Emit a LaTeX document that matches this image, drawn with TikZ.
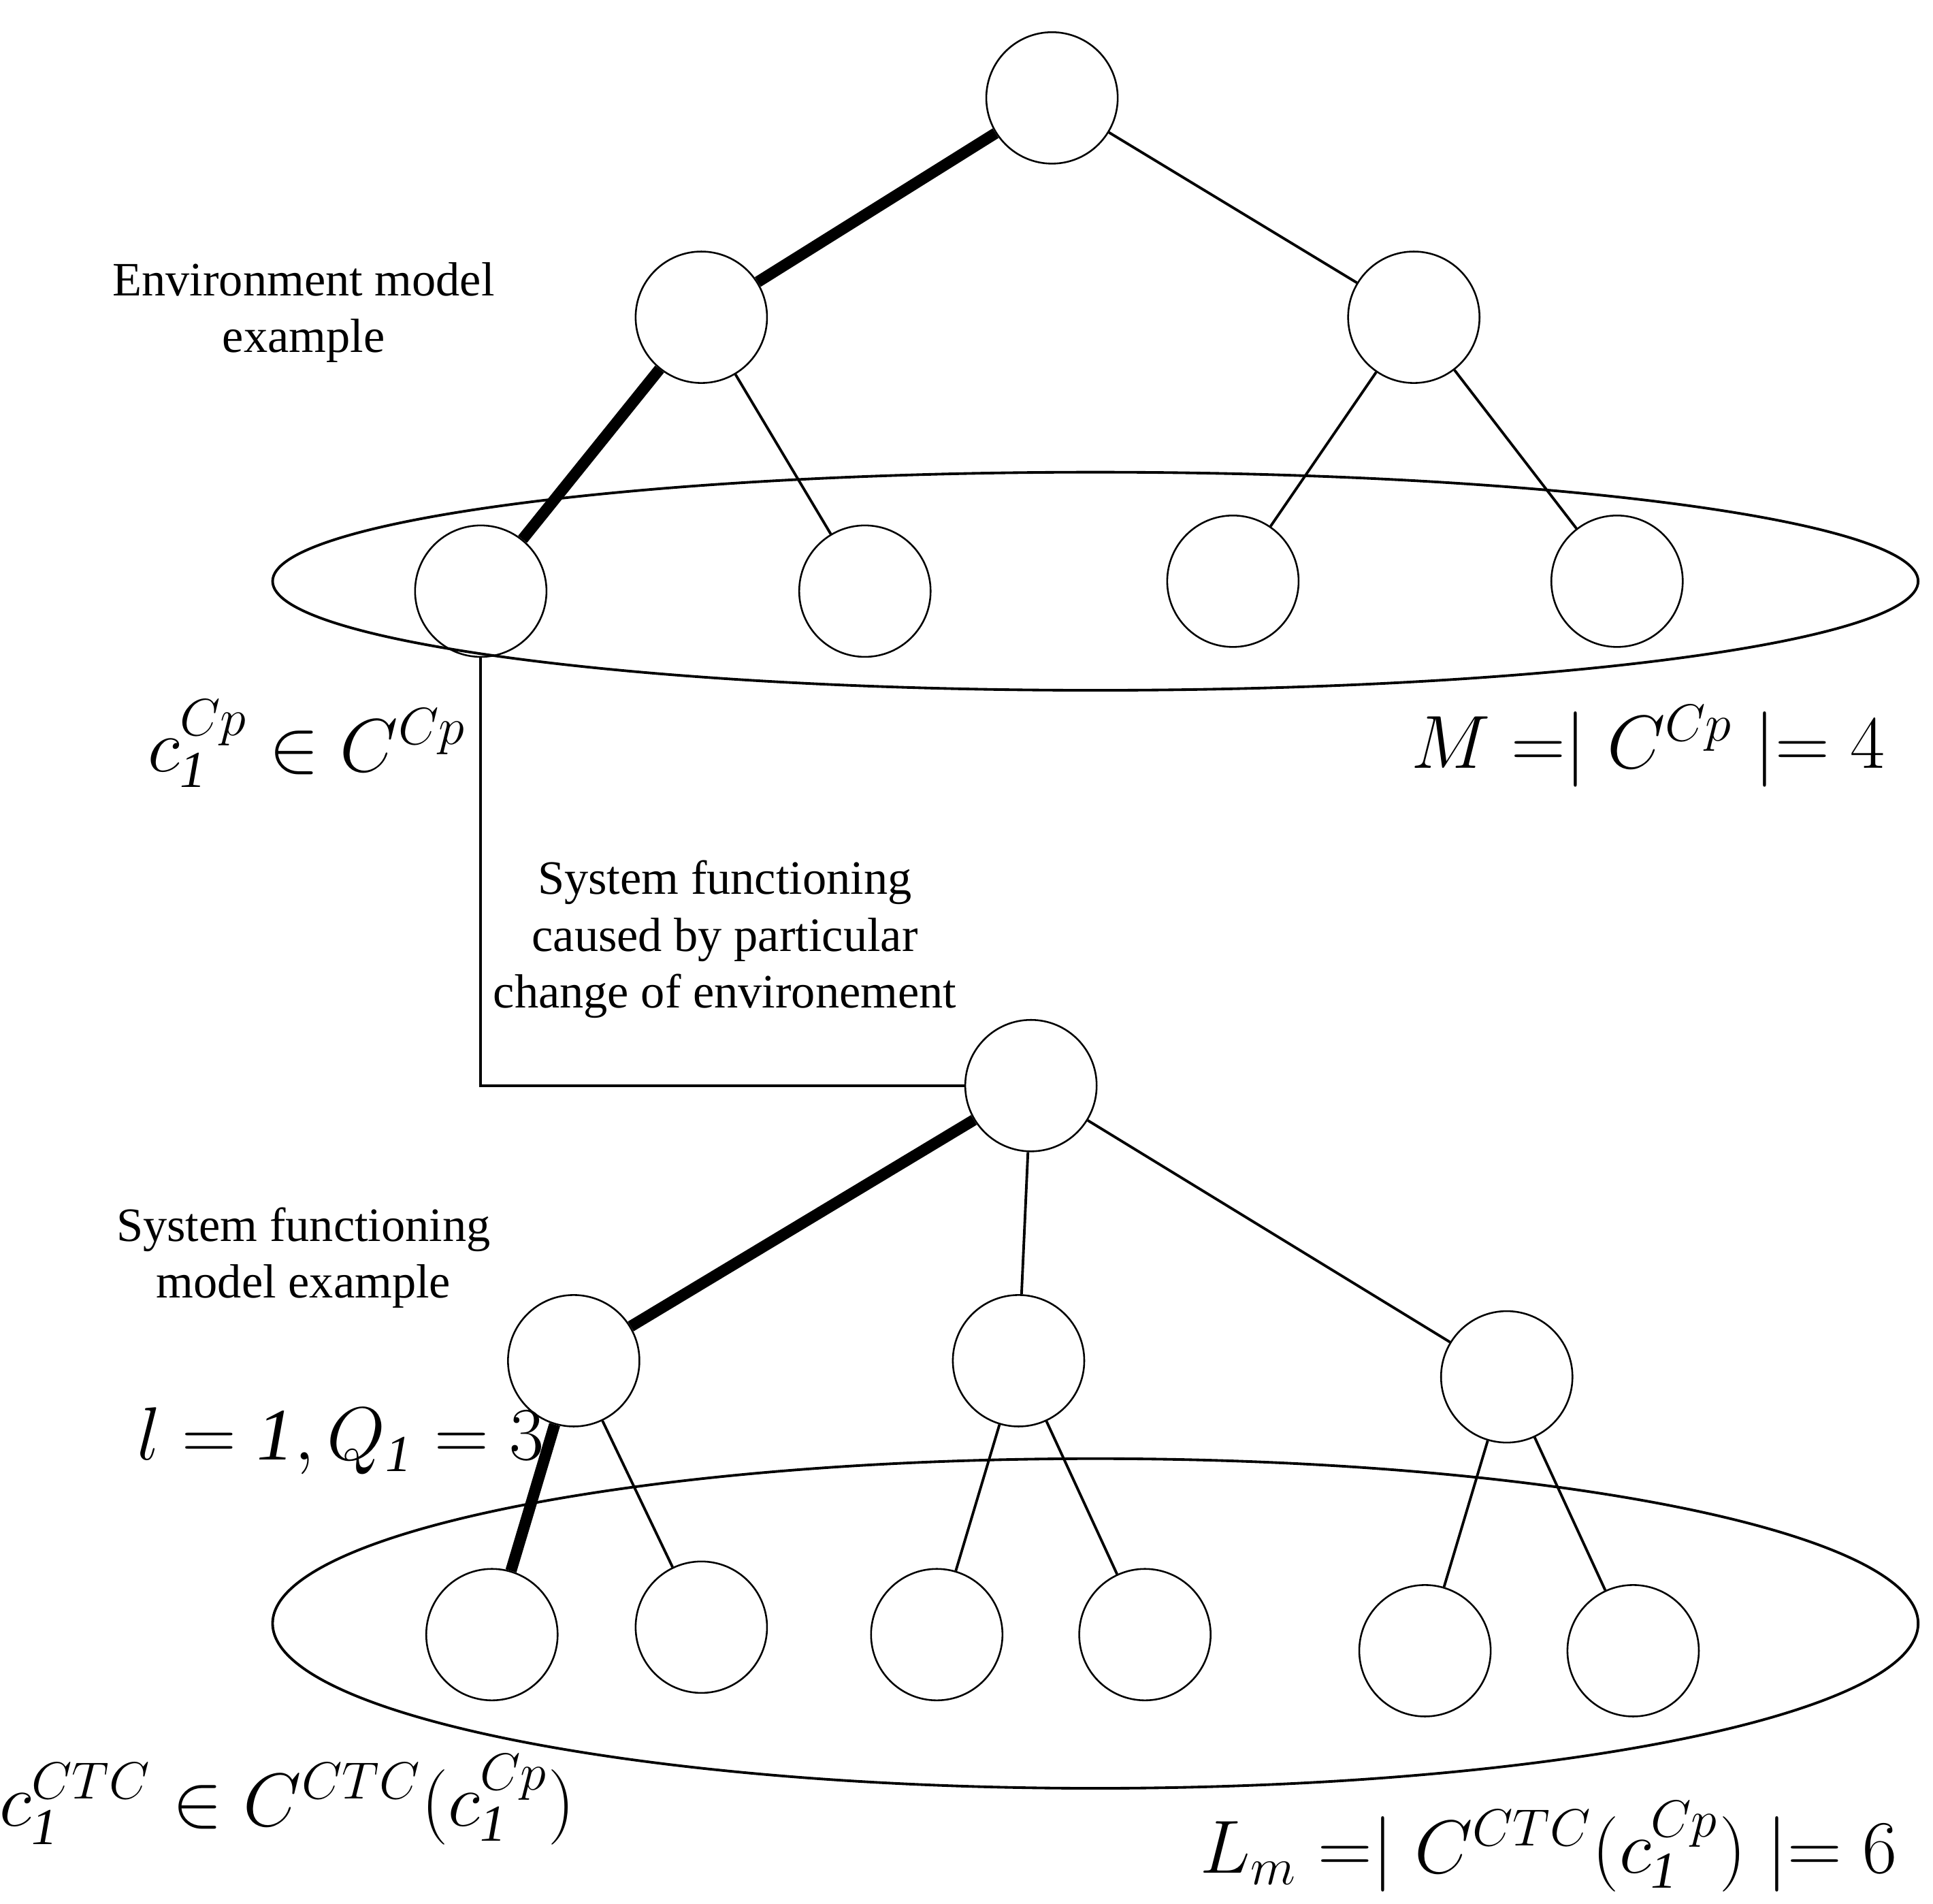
\documentclass[tikz,border=0pt]{standalone}
\usepackage{fontspec}
\setmainfont{Liberation Serif}
\usetikzlibrary{positioning}
\tikzset{
  st/.style={draw, circle, minimum size=1.06cm, inner sep=0pt},
  edge/.style={line width=0.6pt},
  bold/.style={line width=2.6pt},
  lbl/.style={align=center, font=\fontsize{11}{13}\selectfont},
  mth/.style={font=\fontsize{17}{20}\selectfont},
  grp/.style={draw, line width=0.6pt}
}
\begin{document}
\begin{tikzpicture}[x=0.01cm, y=-0.01cm]
    \useasboundingbox (0,0) rectangle (1560,1536);
    % Environment model
    \draw[grp] (884,469) ellipse [x radius=664, y radius=88];
    \node[st] (e) at (849,79) {};
    \node[st] (e1) at (566,256) {};
    \node[st] (e2) at (1141,256) {};
    \node[st] (e11) at (388,477) {};
    \node[st] (e12) at (698,477) {};
    \node[st] (e21) at (995,469) {};
    \node[st] (e22) at (1305,469) {};
    \draw[bold] (e) -- (e1);
    \draw[edge] (e) -- (e2);
    \draw[bold] (e1) -- (e11);
    \draw[edge] (e1) -- (e12);
    \draw[edge] (e2) -- (e21);
    \draw[edge] (e2) -- (e22);

    % System functioning model
    \draw[grp] (884,1310) ellipse [x radius=664, y radius=133];
    \node[st] (s) at (832,876) {};
    \node[st] (s1) at (463,1098) {};
    \node[st] (s2) at (822,1098) {};
    \node[st] (s3) at (1216,1111) {};
    \node[st] (s11) at (397,1319) {};
    \node[st] (s12) at (566,1313) {};
    \node[st] (s21) at (756,1319) {};
    \node[st] (s22) at (924,1319) {};
    \node[st] (s31) at (1150,1332) {};
    \node[st] (s32) at (1318,1332) {};
    \draw[bold] (s) -- (s1);
    \draw[edge] (s) -- (s2);
    \draw[edge] (s) -- (s3);
    \draw[bold] (s1) -- (s11);
    \draw[edge] (s1) -- (s12);
    \draw[edge] (s2) -- (s21);
    \draw[edge] (s2) -- (s22);
    \draw[edge] (s3) -- (s31);
    \draw[edge] (s3) -- (s32);

    % link
    \draw[edge] (e11.south) |- (s.west);

    % Labels
    \node[lbl] (envl) at (245,252) {Environment model\\example};
    \node[lbl] (chg) at (585,758) {System functioning\\caused by particular\\change of environement};
    \node[lbl] (sysl) at (245,1015) {System functioning\\model example};
    \node[mth] (cp) at (248,600) {$c_{\mathit{1}}^{Cp}\in C^{Cp}$};
    \node[mth] (mm) at (1330,602) {$M=\mid C^{Cp}\mid=4$};
    \node[mth] (lq) at (275,1163) {$l=\mathit{1},Q_{\mathit{1}}=3$};
    \node[mth] (ctc) at (232,1452) {$c_{\mathit{1}}^{CTC}\in C^{CTC}(c_{\mathit{1}}^{Cp})$};
    \node[mth] (lm) at (1250,1490) {$L_m=\mid C^{CTC}(c_{\mathit{1}}^{Cp})\mid=6$};
\end{tikzpicture}
\end{document}
